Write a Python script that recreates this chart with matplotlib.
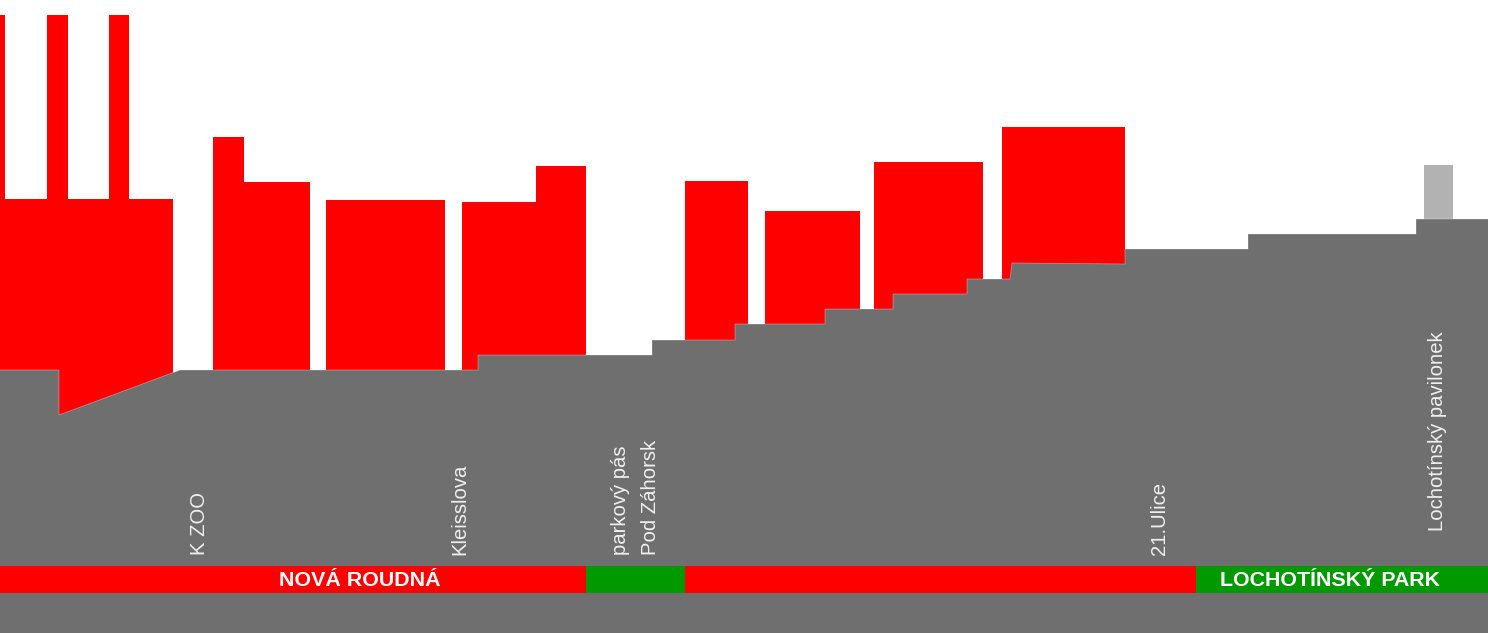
import matplotlib
matplotlib.use('Agg')
import matplotlib.pyplot as plt

RED = '#ff0000'
GREY = '#6f6f6f'
GREEN = '#009900'

# budovy: levy okraj, pravy okraj, vyska (souradnice obrazku)
bud_x0 = [0, 47, 109, 0, 213, 244, 326, 462, 536, 685, 765, 874, 1002]
bud_x1 = [5, 68, 129, 173, 244, 310, 445, 536, 586, 748, 860, 983, 1125]
bud_top = [15, 15, 15, 199, 137, 182, 200, 202, 166, 181, 211, 162, 127]
bud_bottom = [300, 300, 300, 416, 400, 400, 400, 400, 400, 400, 400, 400, 300]

# pavilonek
pav_x = [1424, 1453]
pav_top = 165

# terenni profil
teren_x = [0, 59, 59, 180, 478, 478, 652, 652, 735, 735, 825, 825, 893, 893,
           967, 967, 1010, 1012, 1125, 1125, 1248, 1248, 1416, 1416, 1488]
teren_y = [370, 370, 415, 370, 370, 355, 355, 340, 340, 324, 324, 309, 309, 294,
           294, 279, 279, 263, 264, 249, 249, 234, 234, 219, 219]

# pas s nazvy ctvrti
pas_x0 = [0, 586, 685, 1196]
pas_x1 = [586, 685, 1196, 1488]
pas_barvy = [RED, GREEN, RED, GREEN]
pas_nazvy = ['NOVÁ ROUDNÁ', '', '', 'LOCHOTÍNSKÝ PARK']
pas_nazvy_x = [359.5, 0, 0, 1329.5]

# popisky ulic
ulice = ['K ZOO', 'Kleisslova', 'parkový pás', 'Pod Záhorsk', '21.Ulice', 'Lochotínský pavilonek']
ulice_x = [199.5, 459.5, 620.5, 651, 1160, 1437.5]
ulice_y = [555, 555, 555, 555, 555, 531]

fig = plt.figure(figsize=(14.88, 6.33), dpi=100)
ax = fig.add_axes([0, 0, 1, 1])
ax.set_xlim(0, 1488)
ax.set_ylim(633, 0)
ax.axis('off')

for x0, x1, top, bottom in zip(bud_x0, bud_x1, bud_top, bud_bottom):
    ax.fill_between([x0, x1], top, bottom, color=RED, lw=0, zorder=1)
ax.fill_between(pav_x, pav_top, 240, color='#b2b2b2', lw=0, zorder=1)

ax.fill_between(teren_x, teren_y, 633, color=GREY, lw=0, zorder=2)
# svetly lem terenu
ax.plot(teren_x, teren_y, color='white', alpha=0.4, lw=0.5, zorder=2)

for x0, x1, barva in zip(pas_x0, pas_x1, pas_barvy):
    ax.fill_between([x0, x1], 566, 593, color=barva, lw=0, zorder=3)

for nazev, x in zip(pas_nazvy, pas_nazvy_x):
    if nazev:
        ax.text(x, 581, nazev, color='white', fontsize=15.4, fontweight='bold',
                family='Liberation Sans', ha='center', va='center', zorder=4)

for nazev, x, y in zip(ulice, ulice_x, ulice_y):
    ax.text(x, y, nazev, color='#f0f0f0', fontsize=14.6, family='Liberation Sans', rotation=90,
            ha='center', va='bottom', zorder=4)

fig.savefig('out.png', dpi=100)
